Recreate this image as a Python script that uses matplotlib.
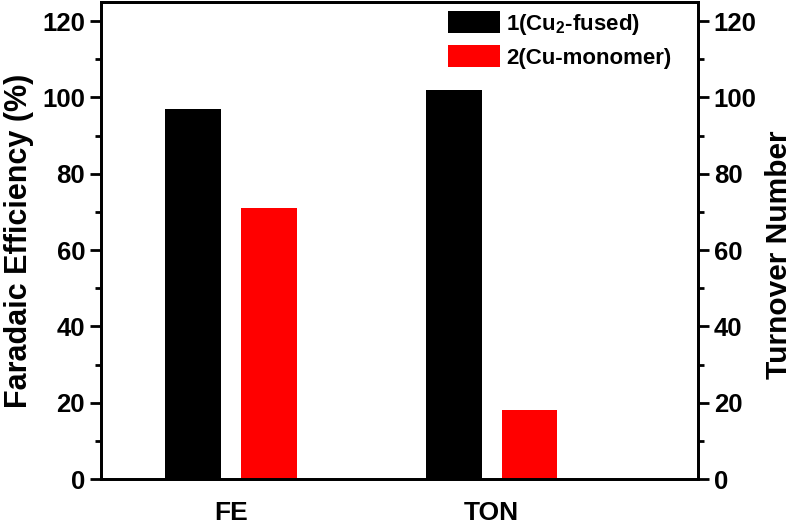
import matplotlib
matplotlib.use("Agg")
import matplotlib.pyplot as plt
import numpy as np
from matplotlib.ticker import MultipleLocator

plt.rcParams['font.family'] = ['Liberation Sans', 'DejaVu Sans']
plt.rcParams['font.weight'] = 'bold'
plt.rcParams['mathtext.fontset'] = 'custom'
plt.rcParams['mathtext.rm'] = 'Liberation Sans:bold'
plt.rcParams['mathtext.default'] = 'rm'

categories = ["FE", "TON"]
series_names = ["1(Cu$_2$-fused)", "2(Cu-monomer)"]
cu2_fused = [97, 102]
cu_monomer = [71, 18]
colors = ["#000000", "#ff0000"]

fig = plt.figure(figsize=(7.92, 5.28), dpi=100)
ax = fig.add_axes([0.1275, 0.0928, 0.7535, 0.9034])
x = np.arange(1, len(categories) + 1)
w = 0.213
off = 0.1456
ax.bar(x - off, cu2_fused, w, color=colors[0], label=series_names[0])
ax.bar(x + off, cu_monomer, w, color=colors[1], label=series_names[1])

ax.set_xlim(0.502, 2.79)
ax.set_ylim(0, 125)
ax.set_xticks(x)
ax.set_xticklabels(categories, fontsize=19, fontweight='bold')
ax.tick_params(axis='x', length=0, pad=16)
ax.yaxis.set_major_locator(MultipleLocator(20))
ax.yaxis.set_minor_locator(MultipleLocator(10))
ax.tick_params(axis='y', which='major', length=8, width=2, labelsize=18.5, direction='out')
ax.tick_params(axis='y', which='minor', length=4, width=2, direction='out')
for lab in ax.get_yticklabels():
    lab.set_fontweight('bold')
ax.set_ylabel("Faradaic Efficiency (%)", fontsize=22, fontweight='bold', labelpad=6)
for s in ax.spines.values():
    s.set_linewidth(2)

ax2 = ax.twinx()
ax2.set_ylim(0, 125)
ax2.yaxis.set_major_locator(MultipleLocator(20))
ax2.yaxis.set_minor_locator(MultipleLocator(10))
ax2.tick_params(axis='y', which='major', length=8, width=2, labelsize=18.5, direction='out')
ax2.tick_params(axis='y', which='minor', length=4, width=2, direction='out')
for lab in ax2.get_yticklabels():
    lab.set_fontweight('bold')
ax2.set_ylabel("Turnover Number", fontsize=21.5, fontweight='bold', labelpad=6)
ax2.yaxis.set_label_coords(1.112, 0.47)
for s in ax2.spines.values():
    s.set_linewidth(2)

leg = ax.legend(loc='upper right', bbox_to_anchor=(0.982, 1.013), frameon=False,
                fontsize=16, handlelength=2.3, handleheight=1.1, labelspacing=0.4,
                handletextpad=0.3, borderaxespad=0.3)
for t in leg.get_texts():
    t.set_fontweight('bold')

fig.savefig("out.png", dpi=100)
